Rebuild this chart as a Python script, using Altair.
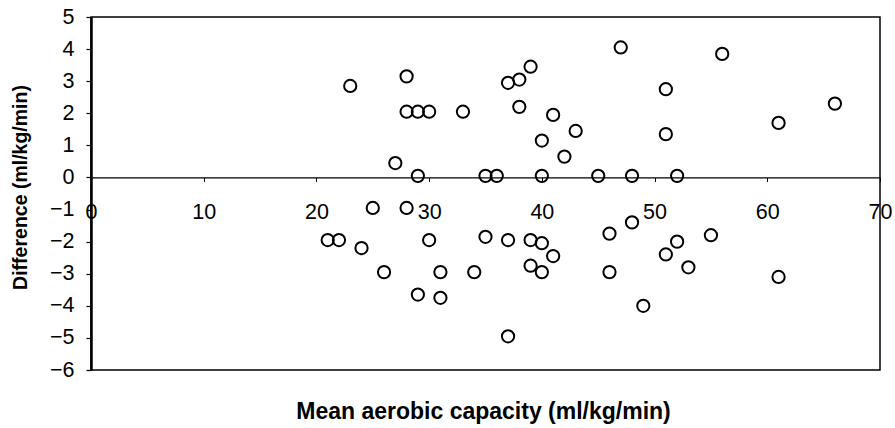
import altair as alt
import pandas as pd

# Mean aerobic capacity (ml/kg/min) and the difference between the two measures
mean_capacity = [
    23, 28, 28, 29, 30, 27, 29, 33, 37, 38, 39, 38, 41, 40, 43, 42,
    35, 36, 40, 45, 48, 52, 47, 56, 51, 51, 61, 66,
    25, 28, 21, 22, 24, 26, 30, 29, 31, 31, 34, 35, 37, 39, 40, 41,
    39, 40, 37, 46, 48, 46, 49, 51, 52, 53, 55, 61,
]
difference = [
    2.85, 3.15, 2.05, 2.05, 2.05, 0.45, 0.05, 2.05, 2.95, 3.05, 3.45, 2.2, 1.95, 1.15, 1.45, 0.65,
    0.05, 0.05, 0.05, 0.05, 0.05, 0.05, 4.05, 3.85, 2.75, 1.35, 1.7, 2.3,
    -0.95, -0.95, -1.95, -1.95, -2.2, -2.95, -1.95, -3.65, -2.95, -3.75, -2.95, -1.85, -1.95, -1.95, -2.05, -2.45,
    -2.75, -2.95, -4.95, -1.75, -1.4, -2.95, -4.0, -2.4, -2.0, -2.8, -1.8, -3.1,
]

x_ticks = [0, 10, 20, 30, 40, 50, 60, 70]
y_ticks = [5, 4, 3, 2, 1, 0, -1, -2, -3, -4, -5, -6]

df = pd.DataFrame({"mean": mean_capacity, "diff": difference})

W, H = 789, 353
FONT = "Liberation Sans"
zero_offset = -H * 6 / 11  # lift the x axis up onto the zero line

points = alt.Chart(df).mark_point(
    shape="circle", filled=False, size=150, stroke="black", strokeWidth=2, opacity=1
).encode(
    x=alt.X(
        "mean:Q",
        scale=alt.Scale(domain=[0, 70], nice=False, zero=False),
        axis=alt.Axis(
            values=x_ticks, format="d", offset=zero_offset, orient="bottom",
            domainColor="black", domainWidth=1.2, tickColor="black", tickSize=4,
            labelFontSize=21.5, labelFont=FONT, labelColor="black", labelPadding=20,
            labelFlush=False, labelOverlap=False, grid=False,
            title="Mean aerobic capacity (ml/kg/min)", titleFont=FONT, titleFontSize=23,
            titleFontWeight="bold", titleColor="black", titleY=234, titleX=392,
            titleBaseline="middle",
        ),
    ),
    y=alt.Y(
        "diff:Q",
        scale=alt.Scale(domain=[-6, 5], nice=False, zero=False),
        axis=alt.Axis(
            values=y_ticks, format="d", domainColor="black", domainWidth=2.5,
            tickColor="black", tickSize=5, tickWidth=1.2,
            labelFontSize=21.5, labelFont=FONT, labelColor="black", labelPadding=12,
            grid=False,
            title="Difference (ml/kg/min)", titleFont=FONT, titleFontSize=19.5,
            titleFontWeight="bold", titleColor="black", titleX=-71, titleY=170,
            titleBaseline="middle", titleAngle=270,
        ),
    ),
)

chart = points.properties(
    width=W, height=H,
    padding={"left": 91, "top": 17, "right": 15, "bottom": 58},
    autosize=alt.AutoSizeParams(type="none"),
    background="white",
).configure_view(stroke="black", strokeWidth=1.5)

chart.save("out.html", embed_options={"renderer": "svg", "actions": False})
